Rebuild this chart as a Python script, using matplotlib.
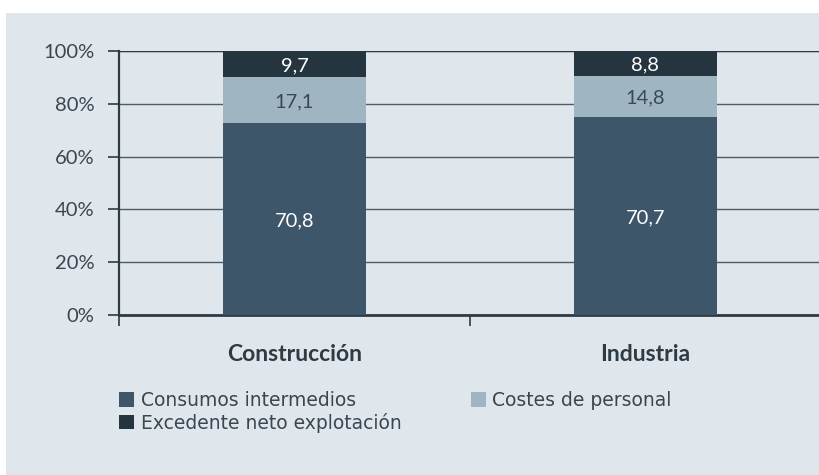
import matplotlib
matplotlib.use("Agg")
import matplotlib.pyplot as plt
from matplotlib.patches import Rectangle
import numpy as np

categories = ["Construcción", "Industria"]
series_names = ["Consumos intermedios", "Costes de personal", "Excedente neto explotación"]
consumos = [70.8, 70.7]
personal = [17.1, 14.8]
excedente = [9.7, 8.8]
labels_consumos = ["70,8", "70,7"]
labels_personal = ["17,1", "14,8"]
labels_excedente = ["9,7", "8,8"]
yticklabels = ["0%", "20%", "40%", "60%", "80%", "100%"]

colors = ["#3d566a", "#9fb6c2", "#25353f"]
text_colors = ["white", "#3a4a55", "white"]
bg = "#dfe7ed"
ink = "#2e3a44"

plt.rcParams['font.family'] = ['Lato', 'DejaVu Sans']

W, H = 819, 475
fig = plt.figure(figsize=(W / 100, H / 100), dpi=100)
fig.patch.set_facecolor("white")
fig.patches.append(Rectangle((6 / W, 0), 1, 1 - 13 / H, transform=fig.transFigure,
                             facecolor=bg, edgecolor="none", zorder=-10))

ax_left, ax_right = 119, 821
ax_top, ax_bottom = 51, 315
ax = fig.add_axes([ax_left / W, 1 - ax_bottom / H, (ax_right - ax_left) / W, (ax_bottom - ax_top) / H])
ax.set_facecolor("none")
ax.set_zorder(5)

data = np.array([consumos, personal, excedente])
totals = data.sum(axis=0)
pct = data / totals * 100
labels = [labels_consumos, labels_personal, labels_excedente]

x = np.arange(len(categories))
bottom = np.zeros(len(categories))
bars = []
for i in range(3):
    b = ax.bar(x, pct[i], bottom=bottom, width=0.405, color=colors[i], zorder=3,
               label=series_names[i])
    bars.append(b)
    for j in range(len(categories)):
        yc = bottom[j] + pct[i][j] / 2
        ax.text(x[j], yc, labels[i][j], ha="center", va="center_baseline", fontsize=14.5,
                color=text_colors[i], zorder=4)
    bottom += pct[i]

ax.set_xlim(-0.5, 1.5)
ax.set_ylim(0, 100)
ax.set_yticks([0, 20, 40, 60, 80, 100])
ax.set_yticklabels(yticklabels)
ax.yaxis.grid(True, color="#4e5c66", linewidth=1.0, zorder=1)
ax.set_axisbelow(True)

ax.set_xticks([-0.5, 0.5, 1.5])
ax.set_xticklabels([])
ax.set_xticks([0, 1], minor=True)
ax.set_xticklabels(categories, minor=True, fontweight="bold", fontsize=16.5, color=ink)
ax.tick_params(axis="x", which="minor", length=0, pad=21)
ax.tick_params(axis="x", which="major", length=8, width=1.2, color=ink, direction="out")
ax.tick_params(axis="y", length=8, width=1.2, color=ink, direction="out", pad=9.5,
               labelsize=14.5, labelcolor="#3a4650")

for s in ["top", "right"]:
    ax.spines[s].set_visible(False)
ax.spines["left"].set_color(ink)
ax.spines["left"].set_linewidth(1.6)
ax.spines["bottom"].set_color(ink)
ax.spines["bottom"].set_linewidth(2.0)
ax.axhline(100, color=ink, linewidth=1.6, zorder=2)

handles = [bars[0], bars[2], bars[1]]
order_labels = [series_names[0], series_names[2], series_names[1]]
leg = fig.legend(handles, order_labels, loc="upper left",
                 bbox_to_anchor=(119 / W, 1 - 391 / H), ncol=2, frameon=False,
                 prop={"family": "DejaVu Sans", "size": 13.5},
                 handlelength=0.8, handleheight=0.8, handletextpad=0.35,
                 columnspacing=3.7, labelspacing=0.15, borderpad=0, borderaxespad=0)
for t in leg.get_texts():
    t.set_color("#3a4650")

fig.savefig("out.png", dpi=100, facecolor=fig.get_facecolor())
